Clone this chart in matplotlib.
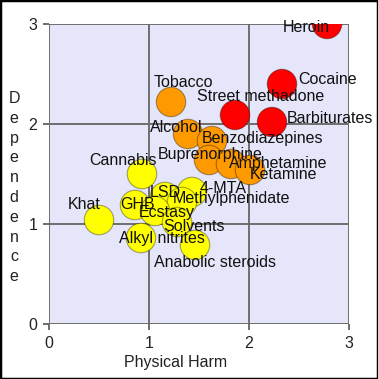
import matplotlib.pyplot as plt
from matplotlib.patches import Rectangle

# 数据: 身体伤害 / 依赖性
drugs = ['Heroin', 'Cocaine', 'Barbiturates', 'Street methadone', 'Tobacco',
         'Alcohol', 'Benzodiazepines', 'Buprenorphine', 'Amphetamine', 'Ketamine',
         'Cannabis', 'LSD', '4-MTA', 'Methylphenidate', 'Khat', 'GHB',
         'Ecstasy', 'Solvents', 'Alkyl nitrites', 'Anabolic steroids']
physical_harm = [2.78, 2.33, 2.23, 1.86, 1.22,
                 1.39, 1.63, 1.60, 1.82, 2.01,
                 0.93, 1.16, 1.43, 1.33, 0.50, 0.86,
                 1.06, 1.28, 0.92, 1.46]
dependence = [3.00, 2.40, 2.02, 2.09, 2.22,
              1.90, 1.83, 1.64, 1.60, 1.54,
              1.50, 1.27, 1.32, 1.22, 1.04, 1.19,
              1.13, 1.02, 0.86, 0.79]
group = ['high'] * 4 + ['mid'] * 6 + ['low'] * 10

ticks = [0, 1, 2, 3]

colors = {'high': '#ff0000', 'mid': '#ff9900', 'low': '#ffff00'}

# 标签偏移 (像素, dx 向右, dy 向下, 相对于文字中心)
label_offsets = {
    'Heroin': (-44, 2), 'Cocaine': (16, -6), 'Barbiturates': (15, -4.5),
    'Street methadone': (-38, -20), 'Tobacco': (-17, -21), 'Alcohol': (-38, -7.5),
    'Benzodiazepines': (-10, -3.5), 'Buprenorphine': (-51, -7),
    'Amphetamine': (-2, -2), 'Ketamine': (0, 3), 'Cannabis': (-53, -14.5),
    'LSD': (-15, -6), '4-MTA': (8, -5), 'Methylphenidate': (-9, -5),
    'Khat': (-31, -17), 'GHB': (-15, -2), 'Ecstasy': (-16, 0),
    'Solvents': (-14, 3), 'Alkyl nitrites': (-22, -1), 'Anabolic steroids': (-41, 16),
}

plt.rcParams['font.family'] = ['Liberation Sans', 'DejaVu Sans']
FS = 11.52
W, H = 378, 379

fig = plt.figure(figsize=(W / 100, H / 100), dpi=100)
ax = fig.add_axes([49 / W, 55 / H, 300 / W, 300 / H])
ax.set_facecolor('#e6e6fa')
for s in ax.spines.values():
    s.set_visible(False)

ax.set_xlim(0, 3)
ax.set_ylim(0, 3)
ax.set_xticks(ticks)
ax.set_yticks(ticks)
ax.set_xticklabels([str(t) for t in ticks])
ax.set_yticklabels([str(t) for t in ticks])
ax.tick_params(length=4.5, width=1.4, color='#6e6e6e', labelsize=FS,
               labelcolor='#222222', pad=4)
ax.grid(True, color='#6e6e6e', linewidth=1.4, zorder=1)
ax.set_axisbelow(True)

ax.scatter(physical_harm, dependence, s=450,
           c=[colors[g] for g in group],
           edgecolors=(0, 0, 0, 0.35), linewidths=0.8, zorder=2)

for name, x, y in zip(drugs, physical_harm, dependence):
    dx, dy = label_offsets[name]
    ax.annotate(name, (x, y), xytext=(dx, -(dy + 5.7)),
                textcoords='offset pixels', ha='left', va='baseline',
                fontsize=FS, color='#111111', zorder=3, annotation_clip=False)

fig.text(175.5 / W, 1 - 363 / H, 'Physical Harm', ha='center', va='center',
         fontsize=FS, color='#222222')
for i, ch in enumerate('Dependence'):
    fig.text(14 / W, 1 - (103 + i * 19.8) / H, ch, ha='center', va='baseline',
             fontsize=FS, color='#222222')

fig.patches.append(Rectangle((0, 0), 1, 1, transform=fig.transFigure,
                             fill=False, edgecolor='black', linewidth=2.5))

fig.savefig('out.png', dpi=100)
